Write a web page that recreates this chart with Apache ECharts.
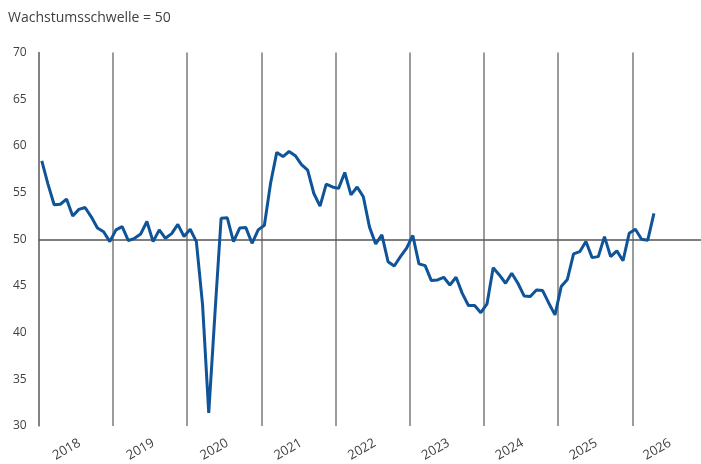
<!DOCTYPE html>
<html>
<head>
<meta charset="utf-8">
<script src="https://cdn.jsdelivr.net/npm/echarts@6/dist/echarts.min.js"></script>
<style>html,body{margin:0;padding:0;background:#fff;overflow:hidden}#c{width:707px;height:464px}</style>
</head>
<body>
<div id="c"></div>
<script>
// Monthly index values, Jan 2018 - Apr 2026
const startYear = 2018;
const values = [
  58.4, 55.9, 53.7, 53.75, 54.3, 52.5, 53.2, 53.4, 52.4, 51.2, 50.8, 49.75,
  51.0, 51.35, 49.85, 50.1, 50.57, 51.9, 49.75, 51.0, 50.1, 50.6, 51.6, 50.3,
  51.07, 49.75, 43.0, 31.4, 42.0, 52.25, 52.3, 49.75, 51.2, 51.25, 49.57, 51.0,
  51.5, 56.0, 59.3, 58.85, 59.4, 58.95, 58.0, 57.4, 54.9, 53.55, 55.9, 55.6,
  55.45, 57.15, 54.75, 55.6, 54.55, 51.3, 49.5, 50.46, 47.6, 47.14, 48.14, 49.04,
  50.4, 47.36, 47.18, 45.57, 45.64, 45.93, 45.1, 45.93, 44.2, 42.9, 42.9, 42.14,
  43.07, 46.95, 46.18, 45.29, 46.36, 45.29, 43.93, 43.86, 44.57, 44.5, 43.15, 41.9,
  44.93, 45.7, 48.43, 48.67, 49.75, 48.03, 48.14, 50.28, 48.14, 48.75, 47.7, 50.64,
  51.07, 50.0, 49.9, 52.78
];
const yearLabels = ['2018','2019','2020','2021','2022','2023','2024','2025','2026'];
const yTicks = [30, 35, 40, 45, 50, 55, 60, 65, 70];
const threshold = 50;
const titleText = 'Wachstumsschwelle = 50';

const seriesData = values.map((v, i) => [i + 0.5, v]);
const font = 'Open Sans, Liberation Sans, sans-serif';

const chart = echarts.init(document.getElementById('c'), null, {renderer: 'canvas'});
chart.setOption({
  animation: false,
  backgroundColor: '#ffffff',
  title: {
    text: titleText, left: 3, top: 6,
    textStyle: {fontFamily: font, fontSize: 14, fontWeight: 'normal', color: '#404040'}
  },
  grid: [
    {left: 38.7, right: 0.5, top: 52.5, bottom: 38, containLabel: false},
    {left: 42.7, right: -3.5, top: 52.5, bottom: 38, containLabel: false}
  ],
  xAxis: [
    {
      type: 'value', gridIndex: 0, min: 0, max: yearLabels.length * 12, interval: 12,
      axisLine: {show: false}, axisTick: {show: false}, axisLabel: {show: false},
      splitLine: {show: true, lineStyle: {color: '#7a7a7a', width: 1.5}}
    },
    {
      type: 'category', gridIndex: 1, data: yearLabels, boundaryGap: true, position: 'bottom',
      axisLine: {show: false}, axisTick: {show: false}, splitLine: {show: false},
      axisLabel: {rotate: 30, margin: 18, fontFamily: font, fontSize: 13, color: '#404040', interval: 0}
    }
  ],
  yAxis: [
    {
      type: 'value', gridIndex: 0, min: yTicks[0], max: yTicks[yTicks.length - 1], interval: 5,
      axisLine: {show: true, lineStyle: {color: '#7a7a7a', width: 1.5}},
      axisTick: {show: false}, splitLine: {show: false},
      axisLabel: {margin: 12, fontFamily: font, fontSize: 12, color: '#404040'}
    },
    {
      type: 'value', gridIndex: 1, show: false, min: 0, max: 1
    }
  ],
  series: [{
    type: 'line', data: seriesData, xAxisIndex: 0, yAxisIndex: 0, showSymbol: false,
    lineStyle: {color: '#0f5499', width: 3}, itemStyle: {color: '#0f5499'},
    z: 5,
    markLine: {
      silent: true, symbol: ['none', 'none'], label: {show: false},
      lineStyle: {color: '#555555', width: 1.5, type: 'solid'},
      data: [{yAxis: threshold}], z: 3
    }
  }]
});
</script>
</body>
</html>
